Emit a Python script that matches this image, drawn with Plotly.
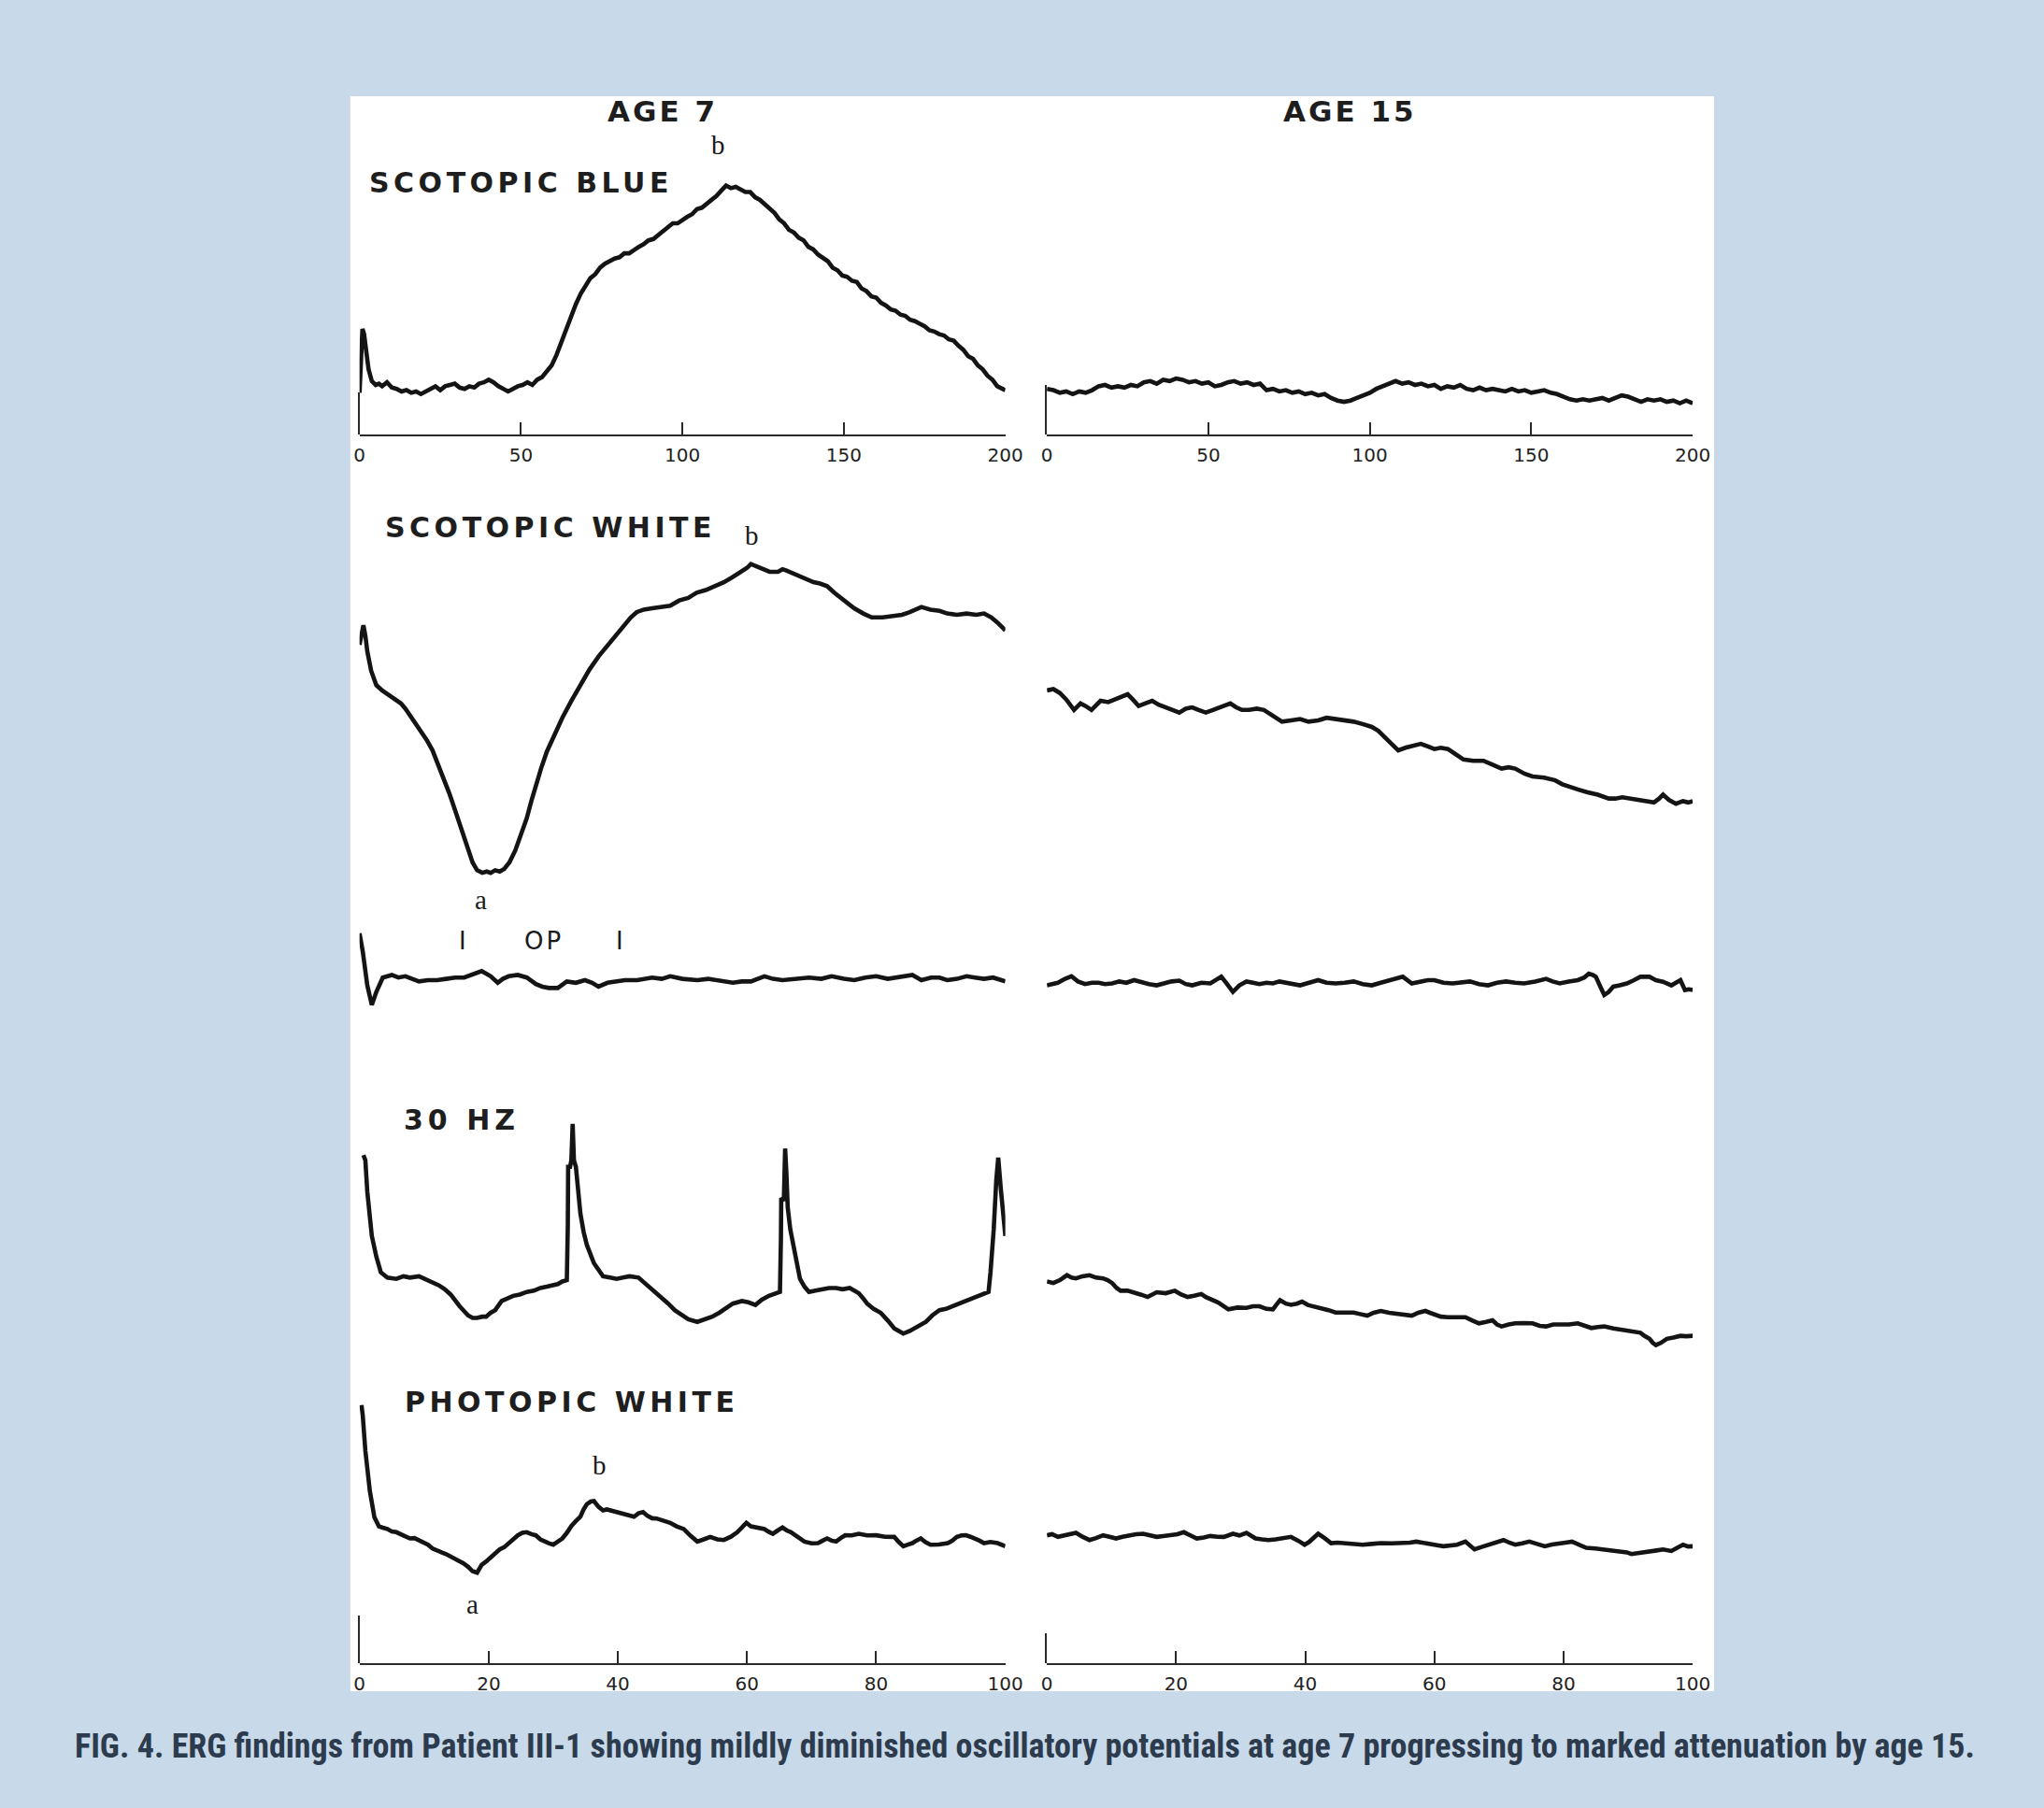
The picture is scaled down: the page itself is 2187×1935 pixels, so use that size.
import plotly.graph_objects as go

PAGE_W, PAGE_H = 2187, 1935
BODY_MARGIN = 8                       # default browser body margin around the plot div
W, H = PAGE_W - BODY_MARGIN, PAGE_H - 2 * BODY_MARGIN
S = 2187 / 1568  # screen px per amplitude unit

# ---------------- data (time in ms, amplitude in arbitrary units above each row baseline) ----------------
scot_blue_age7 = [(0,32),(0.4,62),(0.9,81),(1.4,77),(2.0,66),(2.8,50),(3.8,41),(5,38),(6,39),(7,37),(8.5,40),(10,36),(11.5,35),(13,33),(14.5,34),(16,32),(17.5,33),(19,31),(20.5,33),(22,35),(23.5,37),(25,34),(26.5,37),(28,38),(29.5,39),(31,36),(32.5,35),(34,37),(35.5,36),(37,39),(38.5,40),(40,42),(41.5,40),(43,37),(44.5,35),(46,33),(47.5,35),(49,37),(50.5,38),(52,40),(53.5,38),(55,42),(56.5,44),(58,48),(59.5,53),(61,61),(62.5,71),(64,80),(65.5,90),(67,100),(68.5,108),(70,114),(71.5,120),(73,123),(74.5,128),(76,131),(77.5,133),(79,135),(80.5,136),(82,139),(83.5,139),(85,142),(86.5,144),(88,146),(89.5,149),(91,150),(92.5,153),(94,157),(95.5,159),(97,162),(98.5,162),(100,165),(101.5,167),(103,169),(104.5,173),(106,174),(107.5,177),(109,179),(110.5,183),(112,187),(113.5,191),(115,189),(116.5,190),(118,188),(119.5,186),(121,186),(122.5,182),(124,180),(125.5,177),(127,173),(128.5,170),(130,165),(131.5,162),(133,157),(134.5,155),(136,151),(137.5,149),(139,144),(140.5,142),(142,138),(143.5,135),(145,133),(146.5,128),(148,126),(149.5,122),(151,121),(152.5,118),(154,117),(155.5,112),(157,110),(158.5,106),(160,105),(161.5,101),(163,99),(164.5,96),(166,95),(167.5,92),(169,91),(170.5,88),(172,87),(173.5,85),(175,83),(176.5,80),(178,79),(179.5,77),(181,76),(182.5,73),(184,72),(185.5,68),(187,65),(188.5,60),(190,58),(191.5,53),(193,50),(194.5,45),(196,42),(197.5,37),(199,35),(200,34)]

scot_blue_age15 = [(0,35),(2,34),(4,32),(6,33),(8,31),(10,33),(12,32),(14,34),(16,37),(18,38),(20,36),(22,37),(24,36),(26,38),(28,37),(30,40),(32,41),(34,39),(36,42),(38,41),(40,43),(42,42),(44,40),(46,41),(48,39),(50,40),(52,37),(54,38),(56,40),(58,41),(60,39),(62,40),(64,38),(66,39),(68,34),(70,35),(72,33),(74,34),(76,32),(78,33),(80,31),(82,32),(84,30),(86,31),(88,28),(90,26),(92,25),(94,26),(96,28),(98,30),(100,32),(102,35),(104,37),(106,39),(108,41),(110,39),(112,40),(114,38),(116,39),(118,37),(120,38),(122,35),(124,37),(126,36),(128,38),(130,35),(132,34),(134,36),(136,34),(138,35),(140,34),(142,33),(144,35),(146,33),(148,34),(150,32),(152,33),(154,34),(156,32),(158,31),(160,29),(162,27),(164,26),(166,27),(168,26),(170,27),(172,28),(174,26),(176,28),(178,30),(180,29),(182,27),(184,25),(186,27),(188,26),(190,27),(192,25),(194,26),(196,24),(198,26),(200,24)]

scot_white_age7 = [(0,205),(0.3,214),(0.6,220),(0.9,212),(1.2,200),(1.8,185),(2.6,174),(3.5,170),(4.3,167),(5.2,164),(6.4,160),(7.1,156),(7.8,151),(8.6,145),(9.5,139),(10.4,132),(11.3,124),(12.1,114),(13,103),(13.9,91),(14.8,78),(15.8,63),(16.8,48),(17.5,38),(18.2,32),(19,30),(19.7,31),(20.3,30),(21,32),(21.7,31),(22.4,33),(23.2,38),(24.1,47),(25,59),(25.9,72),(26.6,85),(27.3,98),(28.1,110),(29,123),(30.2,137),(31.4,149),(32.8,162),(34.2,174),(35.6,186),(37,196),(38,202),(39,207),(40,213),(41.1,220),(42,226),(42.9,230),(44,232),(45.3,233),(46.5,234),(48.1,235),(49.5,239),(50.9,241),(52.2,245),(53.6,247),(55,250),(56.4,253),(57.8,257),(59.2,261),(60,264),(60.6,267),(61.5,265),(62.7,262),(63.5,261),(64.8,261),(65.5,263),(66.1,262),(67,260),(68.2,258),(69.2,255),(70.3,253),(71.3,252),(72.4,250),(73.5,245),(74.5,241),(75.5,237),(76.6,233),(78,229),(79.3,226),(81,226),(82.8,227),(84,228),(85.2,230),(86.1,232),(87,234),(88.4,232),(89.8,231),(91,229),(92.5,228),(94,229),(95.5,228),(96.7,229),(97.8,226),(98.8,222),(99.5,219),(100,216)]

scot_white_age15 = [(0,170),(1,171),(2,168),(3,163),(4.2,155),(5.2,160),(6,158),(6.9,155),(8.3,162),(9.5,161),(10.5,163),(11.5,165),(12.5,167),(13.3,163),(14.2,158),(15.2,160),(16.3,162),(17.3,159),(18.4,157),(19.5,155),(20.5,153),(21.5,156),(22.5,157),(23.5,155),(24.6,153),(25.7,155),(26.7,157),(27.5,158),(28.4,160),(29.3,157),(30.2,155),(31.3,155),(32.5,156),(33.6,155),(35,150),(36.4,146),(37.8,147),(39.2,148),(40.5,146),(42,147),(43.3,149),(44.7,148),(46,147),(47.5,146),(49,144),(50.3,142),(51.3,139),(52.4,134),(53.4,129),(54.4,124),(55.5,126),(56.5,127),(57.9,129),(59,127),(60,125),(61,126),(62.1,125),(63.3,121),(64.5,117),(66,116),(67.6,116),(69,113),(70.4,110),(71.5,111),(72.5,110),(74,106),(75.2,104),(77,103),(78.7,101),(79.8,98),(80.8,96),(82.2,94),(83.6,92),(85.3,90),(87,87),(88,87),(89.1,88),(90.5,87),(91.9,86),(93,85),(94,84),(94.8,87),(95.4,90),(96.3,86),(97.4,83),(98.5,85),(99.3,84),(100,85)]

osc_pot_age7 = [(0,74),(0.5,60),(1.2,34),(1.9,19),(2.6,29),(3.6,40),(5,42),(6,40),(7.1,41),(8.2,39),(9.2,37),(10.6,38),(12,38),(13.4,39),(14.8,40),(16.2,40),(17.5,42),(18.9,45),(19.6,43),(20.3,41),(21.4,36),(22.2,39),(23.1,41),(24.5,42),(25.9,40),(27.3,35),(28.3,33),(29.3,32),(30.7,32),(32.1,37),(33.5,36),(34.9,38),(36,36),(37,33),(38.4,36),(39.8,37),(41.1,38),(43,38),(45.3,40),(46.8,39),(48.1,41),(50,39),(52.3,38),(54,39),(55.7,38),(57.8,36),(59.2,37),(60.6,37),(62.7,41),(64,39),(65.5,38),(67.5,39),(69.6,40),(71.5,39),(73.1,41),(75,39),(76.6,38),(78.3,40),(80,41),(81.8,39),(83.5,40),(85.6,42),(87,38),(88.5,40),(89.8,40),(91,38),(92.5,39),(94,41),(95.3,40),(96.7,39),(98.1,40),(99.2,38),(100,37)]

osc_pot_age15 = [(0,34),(0.9,35),(1.7,36),(2.8,39),(3.8,41),(4.8,37),(5.9,35),(7,36),(8,36),(9,35),(10.1,35.5),(11.2,37),(12.3,36),(13.5,38),(14.7,36),(15.8,35),(17,34),(18.2,36),(19.3,37),(20.5,37.6),(21.5,35),(22.5,34),(23.9,36),(25.3,35.5),(26.2,38),(27,40.6),(27.9,35),(28.8,29),(29.8,34),(30.9,37),(31.9,36),(32.9,35),(34,36),(35,35.5),(36,37),(37.1,36),(38.1,35),(39.2,34),(40.6,36),(42,38),(43.3,36),(44.7,35.5),(46.1,36),(47.5,37),(48.9,35),(50.3,34),(51.7,36),(53,38),(54,39),(55.1,40.6),(56.5,35.5),(57.8,37),(59,38),(60,38),(61.4,36),(62.8,35.5),(64.2,36),(65.5,37),(66.9,35),(68.3,34),(69.7,36),(71.1,37),(72.5,36),(73.9,35.5),(75.6,37),(77.3,39),(78.3,37),(79.4,35.5),(80.8,37),(82.2,38),(83.2,40),(83.9,43),(84.5,42),(85,40.6),(85.7,33),(86.3,26.6),(87,29),(87.7,33),(88.7,34),(89.8,35.5),(90.9,38),(91.9,40.6),(93.3,40.6),(94.3,38),(95.4,36.8),(96.7,34),(97.4,36),(98.1,38),(98.8,30.4),(99.4,31),(100,30.4)]

flicker30_age7 = [(0.6,154),(0.9,150),(1.2,126),(1.9,92),(2.6,76),(3.3,64),(4.3,60),(5.7,59),(6.8,61),(7.8,60),(9.2,61),(10.6,58),(11.5,56),(12.3,54),(13.2,51),(14.1,47),(15.5,38),(16.8,31),(17.5,29),(18.2,29),(19,30),(19.6,30),(20.3,33),(21,35),(22,42),(23,44),(23.8,46),(24.8,47),(25.9,49),(27,50),(28,52),(29,53),(30,54),(30.7,55),(31.4,57),(32.1,58),(32.25,100),(32.3,145),(32.6,145),(32.8,150),(33,178),(33.2,150),(33.5,145),(34.2,109),(34.7,95),(35.2,85),(36.3,71),(37.7,61),(38.8,60),(39.8,59),(40.8,60),(41.8,61),(43.2,60),(44.6,54),(45.6,50),(46.7,45),(47.8,40),(48.8,35),(50,31),(50.9,28),(52.3,26),(53.6,28),(54.6,30),(55.7,33),(56.7,36),(57.8,40),(59.2,42),(60.2,41),(61.3,39),(62.3,43),(63.4,46),(64.3,48),(65.1,49),(65.25,90),(65.3,121),(65.7,119),(65.9,159),(66.1,140),(66.3,114),(66.7,97),(67.2,83),(67.7,70),(68.2,59),(68.9,53),(69.6,49),(70.6,50),(71.7,51),(72.7,52),(73.8,52),(74.8,51),(75.9,52),(77.3,48),(78,44),(78.6,40),(79.6,36),(80.7,33),(81.8,27),(82.8,21),(83.5,19),(84.2,17),(85.2,19),(86.3,22),(87,24),(87.7,26),(88.7,31),(89.8,35),(90.8,36),(91.8,38),(92.9,40),(93.9,42),(95,44),(96,46),(97,48),(97.4,49),(97.7,64),(98.2,97),(98.6,135),(98.9,152),(99.3,128),(99.6,115),(99.8,107),(100,92)]

flicker30_age15 = [(0,57),(1,55.8),(2,58),(3.1,61.8),(3.8,60),(4.5,59.4),(5.5,61),(6.6,61.8),(7.6,60),(8.7,59.4),(9.4,58),(10.1,55.8),(10.8,52),(11.4,49.9),(12.5,50),(13.5,48.7),(14.5,47),(15.6,45.1),(16.3,47),(17,48.7),(18.4,48),(19.8,49.9),(20.8,47),(21.8,45.1),(22.8,46),(23.9,47.4),(24.6,45),(25.3,43.9),(26,42),(26.7,40.3),(27.4,38),(28.1,35.6),(29.5,37),(30.9,36.8),(31.9,38),(32.9,38),(34,36),(35,35.6),(35.5,39),(36.1,42.7),(37,40),(37.8,39.1),(38.7,40),(39.5,41.5),(40.4,39),(41.3,38),(42.6,36.8),(43.6,35),(44.7,33.2),(46.1,33),(47.5,33.2),(48.5,32),(49.6,30.8),(50.6,33),(51.7,34.4),(53,33),(54.4,32),(55.5,31),(56.5,30.8),(57.5,33),(58.6,34.4),(59.3,33),(60,32),(61,30),(62.1,29.6),(63.5,30),(64.8,29.6),(65.9,27),(66.9,24.9),(68,26),(69,27.2),(69.7,24),(70.4,22.5),(71.5,24),(72.5,24.9),(73.8,25),(75.2,24.9),(76.3,23),(77.3,22.5),(78.4,24),(79.4,23.7),(80.8,24),(82.2,24.9),(83.3,23),(84.3,21.3),(85.3,22),(86.3,22.5),(87.7,21),(89.1,20.1),(90.5,19),(91.9,17.7),(92.6,15),(93.3,13),(93.8,10),(94.3,8.2),(95.1,10),(96,13),(97,14),(98.1,15.3),(99,15),(100,15.3)]

photopic_white_age7 = [(0.3,198),(0.5,190),(0.9,163),(1.6,132),(2.3,112),(3,105),(3.6,104),(4.3,103),(5,101),(5.7,100.5),(6.8,98),(7.8,95.7),(8.5,96),(9.2,94.5),(9.9,93),(10.6,90.9),(11.3,88),(12,86.1),(12.7,85),(13.4,83.7),(14.1,82),(14.8,80.1),(15.4,79),(16.1,76.6),(16.8,74),(17.5,70.6),(18.2,69.4),(18.9,75.4),(19.6,78),(20.3,81.3),(21,84),(21.7,87.3),(22.4,89),(23.1,92.1),(23.8,95),(24.5,98.1),(25.2,100),(25.9,100.5),(26.6,99),(27.3,98.1),(28,95),(28.6,93.3),(29.3,92),(30,90.9),(30.7,93),(31.4,95.7),(32.1,100),(32.8,105.3),(33.5,109),(34.2,112.4),(34.7,118),(35.2,122),(35.8,124),(36.3,124.4),(37,120),(37.7,117.2),(38.3,118),(39,117.2),(40,116),(41.1,114.8),(41.8,114),(42.5,112.4),(43.2,115),(43.9,116),(44.6,113),(45.3,111.2),(46,111),(46.7,110),(47.4,109),(48.1,107.7),(49.1,105),(50.2,102.9),(51.2,98),(52.3,93.3),(53.3,95),(54.3,96.9),(55.4,95),(56.4,94.5),(57.5,97),(58.5,100.5),(59.2,104),(59.9,107.7),(60.6,105),(61.3,104.1),(62,104),(62.7,102.9),(63.3,101),(64,99.3),(64.8,102),(65.5,104.1),(66.1,102),(66.8,100.5),(67.8,97),(68.9,93.3),(70,92),(71,92.1),(71.7,94),(72.4,95.7),(73.1,94),(73.8,93.3),(74.5,96),(75.2,98.1),(76.2,98),(77.3,99.3),(78.6,98),(80,98.1),(81.4,97),(82.8,96.9),(83.5,93),(84.2,89.7),(84.9,91),(85.6,92.1),(86.2,94),(86.9,95.7),(87.6,93),(88.4,90.9),(89.7,91),(91.1,92.1),(91.8,94),(92.5,96.9),(93.2,98),(93.9,98.1),(94.6,97),(95.3,95.7),(96,94),(96.7,92.1),(97.7,93),(98.8,92.1),(99.4,91),(100,89.7)]

photopic_white_age15 = [(0,98.1),(0.8,99),(1.7,96.9),(3,98),(4.5,100),(5.5,97),(6.6,94.5),(7.6,96),(8.7,98.1),(9.7,97),(10.7,95.7),(11.7,97),(12.8,98.1),(13.8,99),(14.9,99.3),(16,98),(17,96.9),(18,97.5),(19.1,98.1),(20.2,99),(21.2,100.5),(22.2,98),(23.2,95.7),(24.3,96.5),(25.3,97.6),(26.4,97),(27.4,96.9),(28.8,99.3),(29.8,98),(30.9,100),(31.6,98),(32.3,95.7),(33.3,95),(34.3,94.5),(35.4,95),(36.4,95.7),(37.8,96.9),(38.9,94),(39.9,90.9),(40.6,93),(41.3,95.7),(42,99.3),(43,96),(44,92.1),(45,92.5),(46.1,92.1),(47.5,91),(48.9,90.9),(50.3,91.5),(51.7,92.1),(53.4,92),(55.1,92.1),(56.2,92.5),(57.2,93.3),(58.3,92.5),(59.3,92.1),(60.4,90.5),(61.4,89.7),(62.5,90),(63.5,90.9),(64.8,93.3),(65.5,90),(66.2,87.3),(67.2,89),(68.3,90.9),(69.5,92.5),(70.7,94.5),(71.6,92.5),(72.5,90.9),(73.6,92),(74.7,93.3),(75.9,91.5),(77.1,89.7),(78.2,91),(79.2,92.1),(80.3,92.5),(81.3,93.3),(82.4,91),(83.5,88.5),(84.9,88),(86.3,87.3),(87.7,86.5),(89.1,86.1),(89.8,85),(90.5,83.7),(91.9,85),(93.3,86.1),(94.4,86.5),(95.4,87.3),(96.1,86.5),(96.7,86.1),(97.6,88.5),(98.5,90.9),(99.3,89.5),(100,89.7)]

axis_ticks_200 = [0, 50, 100, 150, 200]
axis_ticks_100 = [0, 20, 40, 60, 80, 100]

# ---------------- styling / layout constants ----------------
BG = "#c8d9e9"
INK = "#141414"
AXIS_INK = "#2a2a2a"
LABEL_FONT = "DejaVu Sans"
SERIF = "Liberation Serif"

LEFT_X = (383, 1082)     # page px of t=0 and t=end, left column
RIGHT_X = (1127, 1826)   # right column
ROW_BASE = [465, 976, 1102, 1451, 1780]        # page px of amplitude 0 per row
ROW_RANGE = [(0, 235), (0, 300), (0, 90), (0, 200), (0, 225)]
ROW_TMAX = [200, 100, 100, 100, 100]
ROW_AXIS = [True, False, False, False, True]

rows = [
    (scot_blue_age7, scot_blue_age15),
    (scot_white_age7, scot_white_age15),
    (osc_pot_age7, osc_pot_age15),
    (flicker30_age7, flicker30_age15),
    (photopic_white_age7, photopic_white_age15),
]


def px_x(px):
    """page x pixel -> paper fraction (the plot div starts after the body margin)"""
    return (px - BODY_MARGIN) / W


def px_y(py):
    return 1 - (py - BODY_MARGIN) / H


fig = go.Figure()
layout_axes = {}

for r, (left, right) in enumerate(rows):
    base = ROW_BASE[r]
    r0, r1 = ROW_RANGE[r]
    ydom = [px_y(base - r0 * S), px_y(base - r1 * S)]
    for c, (series, xdom_px) in enumerate(((left, LEFT_X), (right, RIGHT_X))):
        idx = 2 * r + c + 1
        xa = "x" if idx == 1 else f"x{idx}"
        ya = "y" if idx == 1 else f"y{idx}"
        t, v = zip(*series)
        fig.add_trace(go.Scatter(
            x=list(t), y=list(v), mode="lines", xaxis=xa, yaxis=ya,
            line=dict(color=INK, width=4.6, shape="linear"),
            hoverinfo="skip", showlegend=False))
        xkey = "xaxis" if idx == 1 else f"xaxis{idx}"
        ykey = "yaxis" if idx == 1 else f"yaxis{idx}"
        tmax = ROW_TMAX[r]
        xd = dict(domain=[px_x(xdom_px[0]), px_x(xdom_px[1])], range=[0, tmax],
                  anchor=ya, showgrid=False, zeroline=False, fixedrange=True)
        if ROW_AXIS[r]:
            ticks = axis_ticks_200 if tmax == 200 else axis_ticks_100
            xd.update(showline=True, linecolor=AXIS_INK, linewidth=2,
                      ticks="inside", ticklen=13, tickwidth=2, tickcolor=AXIS_INK,
                      tickvals=ticks, ticktext=[str(k) for k in ticks],
                      tickfont=dict(family=LABEL_FONT, size=20, color="#222222"),
                      ticklabelstandoff=3)
        else:
            xd.update(visible=False)
        layout_axes[xkey] = xd
        layout_axes[ykey] = dict(domain=ydom, range=[r0, r1], anchor=xa,
                                 visible=False, fixedrange=True)

# short vertical baseline stubs at t = 0 (rows with a time axis)
stub_lengths = {1: 32, 2: 38, 9: 36.5, 10: 23}
stub_row = {1: 0, 2: 0, 9: 4, 10: 4}
for k, (idx, length) in enumerate(stub_lengths.items()):
    base = ROW_BASE[stub_row[idx]]
    sid = 11 + k
    xa = "x" if idx == 1 else f"x{idx}"
    layout_axes[f"yaxis{sid}"] = dict(
        domain=[px_y(base), px_y(base - length * S)], range=[0, 1], anchor=xa,
        showline=True, linecolor=AXIS_INK, linewidth=2, showticklabels=False,
        ticks="", showgrid=False, zeroline=False, fixedrange=True)
    fig.add_trace(go.Scatter(x=[], y=[], xaxis=xa, yaxis=f"y{sid}",
                             mode="lines", showlegend=False, hoverinfo="skip"))

annotations = []


def spaced(txt, sp):
    return f'<span style="letter-spacing:{sp}px">{txt}</span>'


# column / row titles (positions in page px)
titles = [
    ("AGE 7", 711, 119, "center", 31, 3),
    ("AGE 15", 1455, 119, "center", 31, 3),
    ("SCOTOPIC BLUE", 391, 195, "left", 30, 4.5),
    ("SCOTOPIC WHITE", 409, 565, "left", 30, 4.5),
    ("30 HZ", 429, 1198, "left", 30, 5),
    ("PHOTOPIC WHITE", 430, 1500, "left", 30, 4.5),
]
for txt, x, y, anchor, size, sp in titles:
    annotations.append(dict(
        text="<b>" + spaced(txt, sp) + "</b>", x=px_x(x), y=px_y(y),
        xref="paper", yref="paper", xanchor=anchor, yanchor="middle",
        showarrow=False, font=dict(family=LABEL_FONT, size=size, color="#1e1e1e")))

# wave markers (data coordinates)
markers = [
    ("b", 111, 222, "x", "y", SERIF, 29),
    ("b", 60.7, 289, "x3", "y3", SERIF, 29),
    ("a", 18.8, 9, "x3", "y3", SERIF, 29),
    ("I", 16, 68, "x5", "y5", LABEL_FONT, 26),
    ("OP", 28.5, 68, "x5", "y5", LABEL_FONT, 26),
    ("I", 40.3, 68, "x5", "y5", LABEL_FONT, 26),
    ("b", 37.2, 152, "x9", "y9", SERIF, 29),
    ("a", 17.5, 45, "x9", "y9", SERIF, 29),
]
for txt, t, v, xa, ya, fam, size in markers:
    annotations.append(dict(
        text=spaced(txt, 3) if txt == "OP" else txt, x=t, y=v, xref=xa, yref=ya,
        xanchor="center", yanchor="middle", showarrow=False,
        font=dict(family=fam, size=size, color="#1a1a1a")))

caption = ("FIG. 4. ERG findings from Patient III-1 showing mildly diminished oscillatory "
           "potentials at age 7 progressing to marked attenuation by age 15.")
annotations.append(dict(
    text="<b>" + caption + "</b>", x=px_x(1103), y=px_y(1869), xref="paper", yref="paper",
    xanchor="center", yanchor="middle", showarrow=False,
    font=dict(family="Liberation Sans Narrow, Roboto Condensed, Liberation Sans, sans-serif",
              size=36, color="#2c3b4d")))

fig.update_layout(
    width=W, height=H, autosize=False,
    margin=dict(l=0, r=0, t=0, b=0, pad=0),
    paper_bgcolor=BG, plot_bgcolor="rgba(0,0,0,0)",
    showlegend=False,
    shapes=[dict(type="rect", xref="paper", yref="paper",
                 x0=px_x(373), x1=px_x(1849), y0=px_y(1810), y1=px_y(103),
                 fillcolor="white", line=dict(width=0), layer="below")],
    annotations=annotations,
    **layout_axes,
)

fig.write_html(
    "out.html",
    config={"responsive": False, "displayModeBar": False},
    post_script="document.body.style.background='" + BG + "';",
)
